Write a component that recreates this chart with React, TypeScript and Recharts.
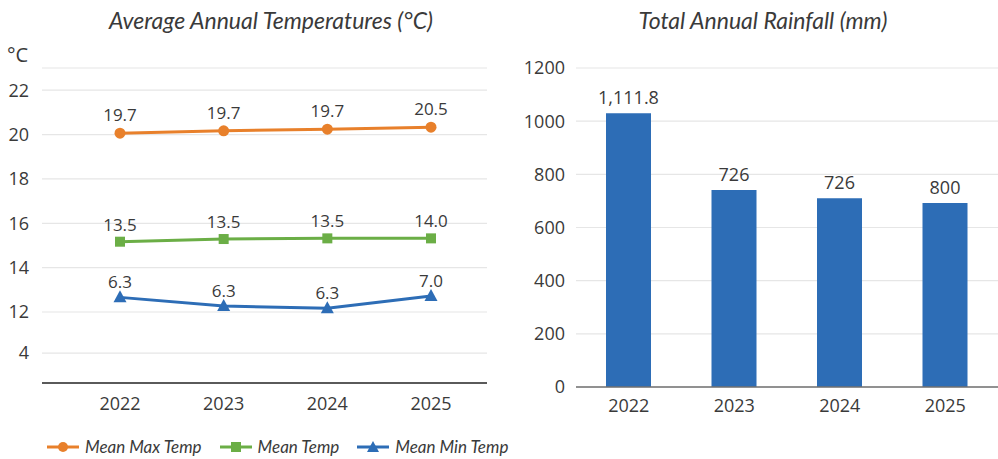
import React from 'react';
import {
  LineChart,
  Line,
  BarChart,
  Bar,
  XAxis,
  YAxis,
  CartesianGrid,
  LabelList,
} from 'recharts';

// years shared by both charts
const years = ['2022', '2023', '2024', '2025'];

// temperature chart: where each point sits on the axis, and the text printed above it
const maxTempPlot = [20.06, 20.17, 20.24, 20.33];
const maxTempLabels = ['19.7', '19.7', '19.7', '20.5'];
const meanTempPlot = [15.17, 15.29, 15.32, 15.32];
const meanTempLabels = ['13.5', '13.5', '13.5', '14.0'];
const minTempPlot = [12.66, 12.27, 12.17, 12.72];
const minTempLabels = ['6.3', '6.3', '6.3', '7.0'];

// the temperature axis is printed with a jump (12 -> 4)
const tempTickValues = [10.15, 12, 14, 16, 18, 20, 22, 23];
const tempTickLabels = ['4', '12', '14', '16', '18', '20', '22', ''];

// rainfall chart
const rainfallPlot = [1030, 741, 710, 692];
const rainfallLabels = ['1,111.8', '726', '726', '800'];
const rainTicks = [0, 200, 400, 600, 800, 1000, 1200];

const ORANGE = '#E8802B';
const GREEN = '#6BAE46';
const BLUE = '#2D6DB6';
const TEXT = '#3a3a3a';
const GRID = '#e6e6e6';
const NUM_FONT = '"Open Sans", "Noto Sans", sans-serif';
const TITLE_FONT = 'Lato, "Open Sans", sans-serif';

const tempData = years.map((year, i) => ({
  year,
  max: maxTempPlot[i],
  maxLabel: maxTempLabels[i],
  mean: meanTempPlot[i],
  meanLabel: meanTempLabels[i],
  min: minTempPlot[i],
  minLabel: minTempLabels[i],
}));

const rainData = years.map((year, i) => ({
  year,
  rain: rainfallPlot[i],
  label: rainfallLabels[i],
}));

const CircleDot = (p: any) =>
  p.cx == null ? null : <circle key={`c${p.index}`} cx={p.cx} cy={p.cy} r={5.5} fill={ORANGE} />;

const SquareDot = (p: any) =>
  p.cx == null ? null : (
    <rect key={`s${p.index}`} x={p.cx - 5} y={p.cy - 5} width={10} height={10} fill={GREEN} />
  );

const TriangleDot = (p: any) =>
  p.cx == null ? null : (
    <polygon
      key={`t${p.index}`}
      points={`${p.cx},${p.cy - 7} ${p.cx - 6.5},${p.cy + 5} ${p.cx + 6.5},${p.cy + 5}`}
      fill={BLUE}
    />
  );

const tempTickFmt = (v: number) => {
  const i = tempTickValues.indexOf(v);
  return i >= 0 ? tempTickLabels[i] : '';
};

const labelStyle = { fontSize: 17, fill: TEXT, fontFamily: NUM_FONT };

function LegendItem({ color, label, marker }: { color: string; label: string; marker: string }) {
  return (
    <div style={{ display: 'flex', alignItems: 'center', marginRight: 18 }}>
      <svg width={32} height={14} style={{ marginRight: 6 }}>
        <line x1={0} y1={7} x2={32} y2={7} stroke={color} strokeWidth={3} />
        {marker === 'circle' && <circle cx={16} cy={7} r={5} fill={color} />}
        {marker === 'square' && <rect x={11} y={2} width={10} height={10} fill={color} />}
        {marker === 'triangle' && <polygon points="16,1 10,12 22,12" fill={color} />}
      </svg>
      <span>{label}</span>
    </div>
  );
}

function TemperatureChart() {
  return (
    <div style={{ position: 'absolute', left: 0, top: 0, width: 500, height: 459 }}>
      <div
        style={{
          position: 'absolute',
          left: 0,
          width: 542,
          top: 6,
          textAlign: 'center',
          fontFamily: TITLE_FONT,
          fontStyle: 'italic',
          fontSize: 23,
          color: TEXT,
        }}
      >
        Average Annual Temperatures (°C)
      </div>
      <div
        style={{
          position: 'absolute',
          left: 7,
          top: 41,
          fontFamily: NUM_FONT,
          fontSize: 20,
          color: TEXT,
        }}
      >
        °C
      </div>
      <LineChart
        width={500}
        height={459}
        data={tempData}
        margin={{ top: 68, right: 13, bottom: 46, left: 0 }}
      >
        <CartesianGrid vertical={false} stroke={GRID} strokeWidth={1.2} />
        <XAxis
          dataKey="year"
          padding={{ left: 78, right: 56 }}
          axisLine={{ stroke: '#5a5a5a', strokeWidth: 2 }}
          tickLine={false}
          tickSize={0}
          tickMargin={14}
          height={30}
          tick={{ fontSize: 18, fill: TEXT, fontFamily: NUM_FONT }}
        />
        <YAxis
          type="number"
          domain={[8.8, 23]}
          ticks={tempTickValues}
          tickFormatter={tempTickFmt}
          interval={0}
          axisLine={false}
          tickLine={false}
          tickSize={0}
          tickMargin={13}
          width={42}
          tick={{ fontSize: 18, fill: TEXT, fontFamily: NUM_FONT }}
        />
        <Line
          dataKey="max"
          stroke={ORANGE}
          strokeWidth={3}
          dot={CircleDot}
          activeDot={false}
          isAnimationActive={false}
        >
          <LabelList dataKey="maxLabel" position="top" offset={12} style={labelStyle} />
        </Line>
        <Line
          dataKey="mean"
          stroke={GREEN}
          strokeWidth={3}
          dot={SquareDot}
          activeDot={false}
          isAnimationActive={false}
        >
          <LabelList dataKey="meanLabel" position="top" offset={11} style={labelStyle} />
        </Line>
        <Line
          dataKey="min"
          stroke={BLUE}
          strokeWidth={3}
          dot={TriangleDot}
          activeDot={false}
          isAnimationActive={false}
        >
          <LabelList dataKey="minLabel" position="top" offset={9} style={labelStyle} />
        </Line>
      </LineChart>
      <div
        style={{
          position: 'absolute',
          left: 47,
          top: 437,
          display: 'flex',
          fontFamily: TITLE_FONT,
          fontStyle: 'italic',
          fontSize: 17,
          lineHeight: '20px',
          color: TEXT,
          whiteSpace: 'nowrap',
        }}
      >
        <LegendItem color={ORANGE} label="Mean Max Temp" marker="circle" />
        <LegendItem color={GREEN} label="Mean Temp" marker="square" />
        <LegendItem color={BLUE} label="Mean Min Temp" marker="triangle" />
      </div>
    </div>
  );
}

function RainfallChart() {
  return (
    <div style={{ position: 'absolute', left: 500, top: 0, width: 498, height: 459 }}>
      <div
        style={{
          position: 'absolute',
          left: 0,
          width: 526,
          top: 6,
          textAlign: 'center',
          fontFamily: TITLE_FONT,
          fontStyle: 'italic',
          fontSize: 23,
          color: TEXT,
        }}
      >
        Total Annual Rainfall (mm)
      </div>
      <BarChart
        width={498}
        height={459}
        data={rainData}
        margin={{ top: 68, right: 0, bottom: 42, left: 0 }}
      >
        <CartesianGrid vertical={false} stroke={GRID} strokeWidth={1.2} />
        <XAxis
          dataKey="year"
          axisLine={{ stroke: '#707070', strokeWidth: 1.5 }}
          tickLine={false}
          tickSize={0}
          tickMargin={12}
          height={30}
          tick={{ fontSize: 18, fill: TEXT, fontFamily: NUM_FONT }}
        />
        <YAxis
          type="number"
          domain={[0, 1200]}
          ticks={rainTicks}
          interval={0}
          axisLine={false}
          tickLine={false}
          tickSize={0}
          tickMargin={11}
          width={76}
          tick={{ fontSize: 18, fill: TEXT, fontFamily: NUM_FONT }}
        />
        <Bar dataKey="rain" fill={BLUE} barSize={45} isAnimationActive={false}>
          <LabelList
            dataKey="label"
            position="top"
            offset={9}
            style={{ fontSize: 18, fill: TEXT, fontFamily: NUM_FONT }}
          />
        </Bar>
      </BarChart>
    </div>
  );
}

export default function App() {
  return (
    <div
      style={{
        position: 'absolute',
        left: 0,
        top: 0,
        width: 998,
        height: 459,
        background: '#fff',
        overflow: 'hidden',
      }}
    >
      <TemperatureChart />
      <RainfallChart />
    </div>
  );
}
